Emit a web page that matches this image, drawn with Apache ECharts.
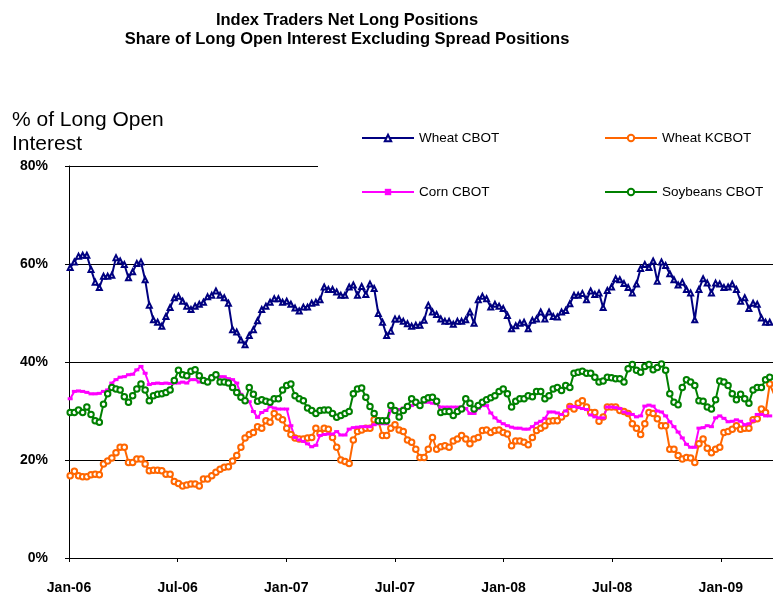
<!DOCTYPE html>
<html>
<head>
<meta charset="utf-8">
<script src="https://cdn.jsdelivr.net/npm/echarts@6/dist/echarts.min.js"></script>
<style>
  html, body { margin: 0; padding: 0; background: #fff; }
  #chart { width: 773px; height: 595px; }
</style>
</head>
<body>
<div id="chart"></div>
<script>
// Weekly Commitments of Traders supplemental reports, first report Tuesday 3 Jan 2006.
const FIRST_REPORT = '2006-01-03';

// Index traders' net long positions, % of long open interest (excl. spreads).
const wheatCBOT = [
  59.3, 60.4, 61.6, 61.8, 61.8, 58.9, 56.3, 55.2, 57.5, 57.5,
  57.7, 61.3, 60.6, 59.9, 57.2, 58.4, 60.1, 60.4, 56.8, 51.6,
  48.6, 48.1, 47.3, 49.3, 51.1, 53.1, 53.4, 52.4, 51.4, 50.7,
  51.4, 51.8, 52.2, 53.3, 53.6, 54.5, 53.6, 53.1, 52.0, 46.6,
  46.1, 44.5, 43.5, 45.4, 46.6, 48.4, 50.7, 51.4, 52.2, 52.9,
  52.9, 52.2, 52.4, 51.8, 51.0, 50.4, 51.2, 51.2, 52.0, 52.2,
  52.7, 55.3, 54.8, 54.8, 54.3, 53.6, 53.6, 55.3, 55.7, 53.6,
  55.4, 53.8, 55.9, 55.0, 49.9, 48.1, 45.4, 46.3, 48.8, 48.8,
  48.3, 47.8, 47.3, 47.5, 47.5, 48.5, 51.6, 50.2, 49.7, 48.8,
  48.3, 48.3, 47.7, 48.3, 48.3, 48.6, 50.2, 47.9, 52.7, 53.4,
  52.9, 51.2, 51.8, 51.4, 50.9, 49.5, 46.8, 47.4, 47.9, 48.1,
  46.8, 48.5, 48.8, 50.2, 48.8, 50.2, 49.3, 49.2, 50.2, 50.5,
  51.9, 53.6, 53.6, 54.0, 52.7, 54.5, 53.8, 54.1, 51.1, 54.6,
  55.3, 57.0, 56.8, 56.0, 55.2, 54.1, 55.9, 59.1, 59.9, 59.3,
  60.6, 56.5, 60.4, 59.7, 58.0, 56.8, 55.7, 56.3, 54.8, 54.1,
  48.6, 54.8, 57.0, 56.1, 54.1, 56.1, 55.9, 55.2, 55.3, 55.9,
  54.8, 52.4, 53.1, 50.9, 52.0, 51.8, 49.0, 48.1, 48.1
];

const wheatKCBOT = [
  16.8, 17.7, 16.8, 16.6, 16.6, 17.0, 17.1, 17.0, 19.2, 19.8,
  20.4, 21.5, 22.6, 22.6, 19.5, 19.5, 20.2, 20.2, 19.2, 17.8,
  17.9, 17.9, 17.8, 17.1, 17.1, 15.6, 15.2, 14.7, 14.9, 15.1,
  15.1, 14.7, 16.1, 16.1, 16.8, 17.5, 18.1, 18.5, 18.6, 19.8,
  20.9, 22.6, 24.5, 25.2, 25.6, 26.8, 26.5, 28.0, 27.7, 29.5,
  28.8, 28.2, 26.5, 25.2, 24.5, 24.3, 24.3, 24.5, 24.6, 26.5,
  25.4, 26.5, 26.3, 24.6, 22.6, 20.0, 19.7, 19.3, 24.1, 25.8,
  26.1, 26.5, 26.5, 28.2, 28.0, 25.0, 25.0, 26.5, 27.2, 26.1,
  25.8, 24.1, 23.6, 22.2, 20.5, 20.5, 22.2, 24.6, 22.2, 22.7,
  22.9, 22.6, 23.9, 24.3, 25.0, 24.3, 23.3, 24.3, 24.6, 26.0,
  26.1, 25.6, 26.0, 26.1, 25.6, 25.3, 22.9, 23.9, 23.9, 23.6,
  23.1, 24.6, 26.0, 26.5, 27.0, 27.9, 28.0, 28.0, 28.8, 29.5,
  30.9, 30.4, 31.6, 32.1, 30.8, 29.7, 29.7, 27.9, 28.8, 30.8,
  30.8, 30.8, 30.1, 29.9, 29.5, 27.4, 26.5, 25.2, 27.4, 29.7,
  29.5, 28.4, 27.0, 27.0, 22.2, 22.2, 20.9, 20.2, 20.5, 20.4,
  19.5, 23.3, 24.3, 22.4, 21.5, 22.2, 22.6, 25.6, 25.8, 26.3,
  27.0, 26.3, 26.5, 26.5, 28.2, 28.4, 30.4, 29.7, 35.5, 33.5
];

const cornCBOT = [
  32.5, 34.0, 34.1, 34.0, 33.8, 33.5, 33.5, 33.6, 34.0, 34.3,
  35.7, 36.4, 36.9, 37.0, 37.4, 37.5, 38.4, 39.1, 37.7, 35.4,
  35.6, 35.7, 35.6, 35.7, 35.6, 35.7, 35.7, 35.9, 35.7, 36.4,
  36.4, 35.9, 35.9, 36.4, 37.2, 37.5, 37.0, 37.0, 36.6, 36.4,
  35.7, 33.4, 32.3, 31.9, 29.9, 28.7, 29.7, 30.1, 30.9, 30.6,
  30.4, 30.4, 30.4, 27.0, 24.6, 24.1, 23.8, 23.3, 22.7, 23.0,
  25.0, 25.2, 25.3, 25.3, 25.8, 25.1, 25.1, 26.3, 26.6, 26.7,
  26.8, 26.8, 26.8, 27.2, 27.4, 27.4, 27.4, 30.1, 30.2, 30.3,
  30.6, 30.6, 31.1, 31.5, 31.6, 31.8, 31.8, 31.6, 31.5, 30.8,
  30.8, 30.8, 30.8, 30.8, 30.8, 30.5, 29.5, 29.5, 30.5, 31.1,
  31.1, 29.6, 28.6, 27.9, 27.4, 27.0, 26.7, 26.5, 26.5, 26.3,
  26.3, 26.8, 27.5, 27.9, 28.5, 29.8, 29.8, 29.6, 29.3, 30.0,
  30.9, 30.9, 30.7, 30.5, 30.3, 29.2, 28.8, 28.6, 28.6, 30.8,
  30.8, 30.7, 30.5, 29.8, 29.5, 29.3, 28.8, 29.0, 31.0, 31.2,
  31.0, 30.0, 29.8, 29.0, 27.8, 26.8, 25.7, 24.5, 23.2, 22.6,
  22.6, 26.5, 26.6, 27.0, 26.8, 28.6, 29.0, 28.5, 27.8, 27.9,
  28.2, 27.9, 27.2, 27.4, 28.0, 29.3, 29.3, 29.0, 29.0
];

const soybeansCBOT = [
  29.7, 29.7, 30.2, 29.7, 30.8, 29.3, 28.0, 27.7, 31.4, 33.5,
  34.8, 34.5, 34.3, 32.9, 31.8, 33.1, 34.5, 35.5, 34.3, 32.1,
  33.1, 33.4, 33.5, 33.8, 34.3, 36.2, 38.3, 37.4, 37.2, 38.1,
  38.4, 37.2, 36.2, 35.9, 36.8, 37.4, 35.9, 35.9, 35.7, 34.8,
  33.8, 32.8, 32.1, 34.8, 33.4, 32.0, 32.3, 32.0, 31.8, 32.5,
  32.5, 34.3, 35.2, 35.5, 33.1, 32.5, 32.1, 30.6, 30.1, 29.5,
  30.1, 30.2, 30.2, 29.5, 28.7, 29.1, 29.5, 29.9, 33.5, 34.5,
  34.7, 32.8, 30.9, 29.5, 28.0, 28.0, 28.0, 31.1, 30.1, 28.8,
  30.1, 30.9, 32.5, 31.8, 31.1, 32.3, 32.7, 32.8, 32.0, 29.7,
  29.9, 29.9, 29.1, 29.9, 30.4, 32.5, 31.6, 30.4, 31.1, 31.8,
  32.3, 32.7, 33.1, 34.0, 34.5, 33.5, 30.8, 32.0, 32.5, 32.5,
  33.1, 32.9, 34.0, 34.0, 32.5, 33.1, 34.5, 34.8, 34.2, 35.2,
  34.8, 37.7, 37.9, 38.1, 37.7, 37.7, 36.9, 35.9, 36.1, 36.9,
  36.8, 36.6, 36.6, 35.9, 38.6, 39.5, 38.3, 37.9, 39.1, 39.5,
  38.4, 38.9, 39.6, 38.3, 33.5, 31.8, 31.3, 34.8, 36.4, 35.9,
  35.2, 32.1, 32.0, 30.8, 30.4, 32.3, 36.1, 35.9, 35.2, 33.5,
  32.3, 33.4, 32.5, 31.6, 34.3, 34.8, 34.8, 36.4, 36.9
];

const yTicks = [0, 20, 40, 60, 80];
const monthNames = ['Jan', 'Feb', 'Mar', 'Apr', 'May', 'Jun', 'Jul', 'Aug', 'Sep', 'Oct', 'Nov', 'Dec'];

// The x axis counts days from 1 Jan 2006; ticks fall every half year.
const DAY_MS = 86400000;
const AXIS_START = Date.UTC(2006, 0, 1);
const HALF_YEAR = 365.25 / 2;
const AXIS_END_DAYS = 1183.5;
const firstReportDay = (Date.parse(FIRST_REPORT + 'T00:00:00Z') - AXIS_START) / DAY_MS;

const weekly = values => values.map((v, i) => [firstReportDay + 7 * i, v]);

function halfYearLabel(days) {
  const k = days / HALF_YEAR;
  if (Math.abs(k - Math.round(k)) > 1e-6) return '';
  const d = new Date(AXIS_START + Math.round(days) * DAY_MS);
  return monthNames[d.getUTCMonth()] + '-' + String(d.getUTCFullYear()).slice(2);
}

const FONT = '"Liberation Sans", Arial, Helvetica, sans-serif';

const chart = echarts.init(document.getElementById('chart'), null, { renderer: 'canvas' });

const legendCommon = {
  orient: 'vertical',
  top: 131,
  itemWidth: 52,
  itemHeight: 8,
  itemGap: 40,
  padding: 0,
  selectedMode: false,
  textStyle: { fontFamily: FONT, fontSize: 13.5, color: '#000' }
};

chart.setOption({
  animation: false,
  backgroundColor: '#fff',
  textStyle: { fontFamily: FONT },
  title: [
    {
      text: 'Index Traders Net Long Positions\nShare of Long Open Interest Excluding Spread Positions',
      left: 347,
      top: 11,
      textAlign: 'center',
      padding: 0,
      textStyle: { fontFamily: FONT, fontSize: 16.5, fontWeight: 'bold', lineHeight: 19, color: '#000' }
    },
    {
      text: '% of Long Open\nInterest',
      left: 12,
      top: 108,
      padding: 0,
      textStyle: { fontFamily: FONT, fontSize: 21, fontWeight: 'normal', lineHeight: 24, color: '#000' }
    }
  ],
  legend: [
    Object.assign({ left: 361, data: ['Wheat CBOT', 'Corn CBOT'] }, legendCommon),
    Object.assign({ left: 604, data: ['Wheat KCBOT', 'Soybeans CBOT'] }, legendCommon)
  ],
  // white legend panel sitting over the top gridline
  graphic: [
    {
      type: 'rect',
      z: 1,
      silent: true,
      shape: { x: 318, y: 112, width: 455, height: 92 },
      style: { fill: '#fff' }
    }
  ],
  grid: { left: 69, right: 0, top: 166, bottom: 37 },
  xAxis: {
    type: 'value',
    min: 0,
    max: AXIS_END_DAYS,
    interval: HALF_YEAR,
    axisLine: { show: true, lineStyle: { color: '#000', width: 1 } },
    axisTick: { show: true, length: 4, lineStyle: { color: '#000' } },
    splitLine: { show: false },
    axisLabel: {
      margin: 23,
      fontFamily: FONT,
      fontSize: 14,
      fontWeight: 'bold',
      color: '#000',
      showMaxLabel: false,
      formatter: halfYearLabel
    }
  },
  yAxis: {
    type: 'value',
    min: yTicks[0],
    max: yTicks[yTicks.length - 1],
    interval: yTicks[1] - yTicks[0],
    axisLine: { show: true, lineStyle: { color: '#000', width: 1 } },
    axisTick: { show: true, length: 4, lineStyle: { color: '#000' } },
    splitLine: { show: true, lineStyle: { color: '#000', width: 1 } },
    axisLabel: {
      margin: 21,
      fontFamily: FONT,
      fontSize: 14,
      fontWeight: 'bold',
      color: '#000',
      formatter: '{value}%'
    }
  },
  series: [
    {
      name: 'Wheat CBOT',
      type: 'line',
      data: weekly(wheatCBOT),
      symbol: 'emptyTriangle',
      symbolSize: 5,
      color: '#000080',
      lineStyle: { color: '#000080', width: 2 },
      itemStyle: { color: '#000080', borderWidth: 1.2 }
    },
    {
      name: 'Wheat KCBOT',
      type: 'line',
      data: weekly(wheatKCBOT),
      symbol: 'emptyCircle',
      symbolSize: 5.5,
      color: '#FF6600',
      lineStyle: { color: '#FF6600', width: 2 },
      itemStyle: { color: '#FF6600', borderWidth: 1.2 }
    },
    {
      name: 'Corn CBOT',
      type: 'line',
      data: weekly(cornCBOT),
      symbol: 'rect',
      symbolSize: [5, 3],
      color: '#FF00FF',
      lineStyle: { color: '#FF00FF', width: 2 },
      itemStyle: { color: '#FF00FF' }
    },
    {
      name: 'Soybeans CBOT',
      type: 'line',
      data: weekly(soybeansCBOT),
      symbol: 'emptyCircle',
      symbolSize: 5.5,
      color: '#008000',
      lineStyle: { color: '#008000', width: 2 },
      itemStyle: { color: '#008000', borderWidth: 1.2 }
    }
  ]
});
</script>
</body>
</html>
